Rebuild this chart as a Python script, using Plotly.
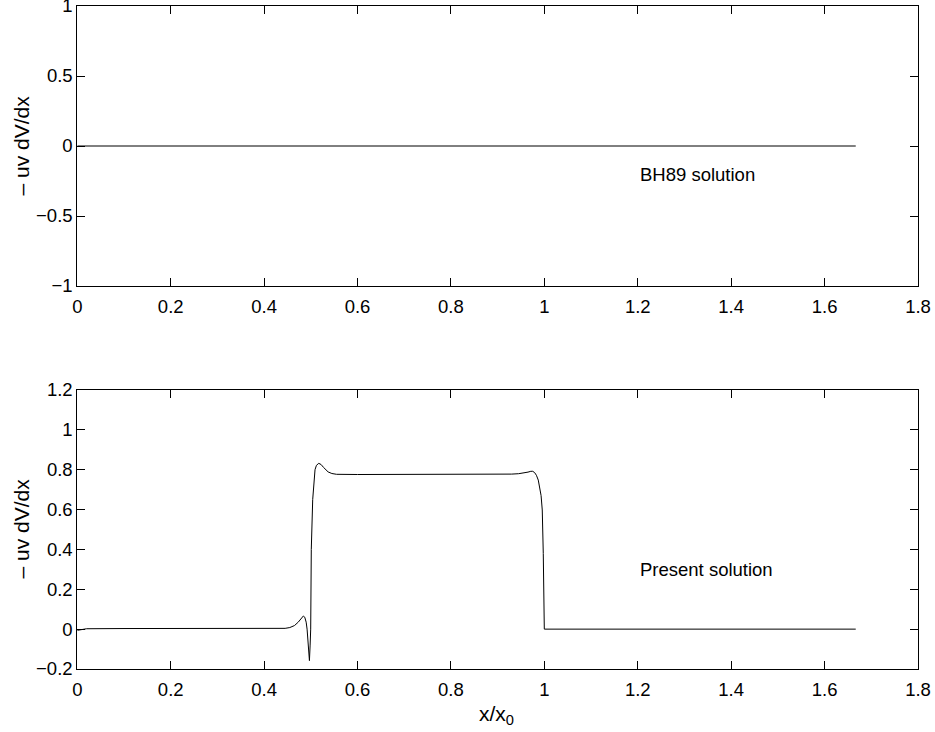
import plotly.graph_objects as go
from plotly.subplots import make_subplots

# Upper panel: BH89 solution (identically zero over the domain)
bh89_x = [0.0, 1.6667]
bh89_y = [0.0, 0.0]

# Lower panel: present solution, -uv dV/dx along x/x0
present_x = [0.0, 0.02, 0.10, 0.30, 0.40, 0.445, 0.455, 0.465, 0.473, 0.479,
             0.484, 0.487, 0.490, 0.492, 0.495, 0.497, 0.4985, 0.4997, 0.501,
             0.504, 0.509, 0.512, 0.517, 0.522, 0.527, 0.532, 0.537, 0.545,
             0.555, 0.600, 0.800, 0.900, 0.930, 0.945, 0.955, 0.965, 0.971,
             0.975, 0.979, 0.983, 0.987, 0.990, 0.993, 0.9955, 0.9977, 0.9999,
             1.001, 1.2, 1.4, 1.6667]
present_y = [-0.006, 0.002, 0.003, 0.003, 0.003, 0.004, 0.008, 0.018, 0.035, 0.055,
             0.066, 0.060, 0.035, 0.0, -0.10, -0.158, -0.08, 0.0, 0.40,
             0.65, 0.80, 0.822, 0.832, 0.826, 0.812, 0.798, 0.789, 0.781,
             0.777, 0.776, 0.775, 0.776, 0.778, 0.780, 0.783, 0.788, 0.792,
             0.792, 0.786, 0.772, 0.748, 0.715, 0.67, 0.598, 0.38, 0.0,
             0.0, 0.0, 0.0, 0.0]

x_ticks = [0, 0.2, 0.4, 0.6, 0.8, 1.0, 1.2, 1.4, 1.6, 1.8]
x_ticklabels = ["0", "0.2", "0.4", "0.6", "0.8", "1", "1.2", "1.4", "1.6", "1.8"]
top_yticks = [-1, -0.5, 0, 0.5, 1]
top_yticklabels = ["\u22121", "\u22120.5", "0", "0.5", "1"]
bot_yticks = [-0.2, 0, 0.2, 0.4, 0.6, 0.8, 1.0, 1.2]
bot_yticklabels = ["\u22120.2", "0", "0.2", "0.4", "0.6", "0.8", "1", "1.2"]

FONT = "Liberation Sans, Arial, Helvetica, sans-serif"
W, H = 935, 732
TICK_SIZE = 18.5
LABEL_SIZE = 21

fig = make_subplots(rows=2, cols=1)
fig.add_trace(go.Scatter(x=bh89_x, y=bh89_y, mode="lines",
                         line=dict(color="black", width=1)), row=1, col=1)
fig.add_trace(go.Scatter(x=present_x, y=present_y, mode="lines",
                         line=dict(color="black", width=1)), row=2, col=1)

xdom = [77.3 / W, 918 / W]
axis_common = dict(showgrid=False, zeroline=False, showline=True, linecolor="black",
                   linewidth=1, mirror="ticks", ticks="inside", ticklen=8,
                   tickcolor="black", tickwidth=1, automargin=False,
                   ticklabeloverflow="allow",
                   tickfont=dict(family=FONT, size=TICK_SIZE, color="black"))
xaxis_extra = dict(ticklabelstandoff=4)

fig.update_layout(
    width=W, height=H, margin=dict(l=0, r=0, t=0, b=0, pad=0),
    paper_bgcolor="white", plot_bgcolor="white", showlegend=False,
    font=dict(family=FONT, size=TICK_SIZE, color="black"),
    xaxis=dict(domain=xdom, range=[0, 1.8], tickvals=x_ticks, ticktext=x_ticklabels,
               anchor="y", **axis_common, **xaxis_extra),
    yaxis=dict(domain=[1 - 286 / H, 1 - 6 / H], range=[-1, 1], tickvals=top_yticks,
               ticktext=top_yticklabels, anchor="x", **axis_common),
    xaxis2=dict(domain=xdom, range=[0, 1.8], tickvals=x_ticks, ticktext=x_ticklabels,
                anchor="y2", **axis_common, **xaxis_extra),
    yaxis2=dict(domain=[1 - 669 / H, 1 - 390 / H], range=[-0.2, 1.2], tickvals=bot_yticks,
                ticktext=bot_yticklabels, anchor="x2", **axis_common),
)

ann_font = dict(family=FONT, size=TICK_SIZE, color="black")
fig.add_annotation(x=1.2, y=-0.2, xref="x", yref="y", text="BH89 solution",
                   showarrow=False, xanchor="left", yanchor="middle", font=ann_font)
fig.add_annotation(x=1.2, y=0.3, xref="x2", yref="y2", text="Present solution",
                   showarrow=False, xanchor="left", yanchor="middle", font=ann_font)
label_font = dict(family=FONT, size=LABEL_SIZE, color="black")
for yc in (146, 529):
    fig.add_annotation(x=20.5 / W, y=1 - yc / H, xref="paper", yref="paper",
                       text="\u2013 uv dV/dx", textangle=-90, showarrow=False,
                       xanchor="center", yanchor="middle", font=label_font)
fig.add_annotation(x=497 / W, y=1 - 715 / H, xref="paper", yref="paper",
                   text="x/x<sub>0</sub>", showarrow=False,
                   xanchor="center", yanchor="middle", font=label_font)

fig.write_html("out.html")
